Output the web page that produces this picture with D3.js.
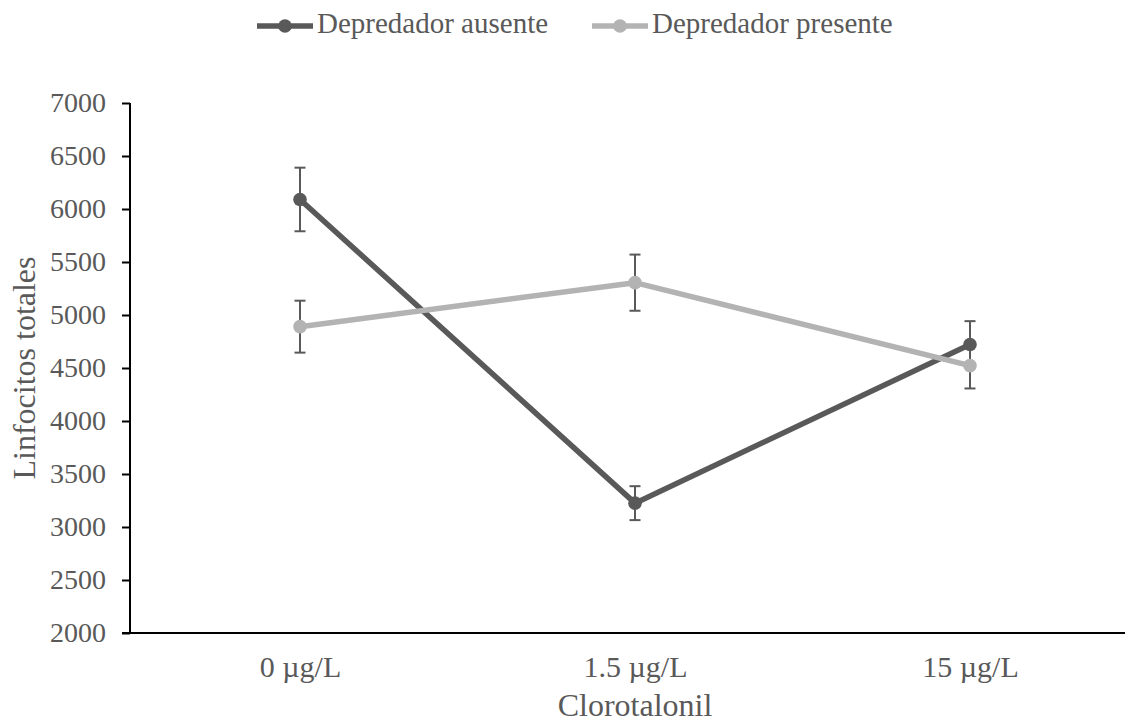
<!DOCTYPE html>
<html>
<head>
<meta charset="utf-8">
<script src="https://cdn.jsdelivr.net/npm/d3@7"></script>
<style>
  html, body { margin: 0; padding: 0; background: #fff; }
  svg text { font-family: "Liberation Serif", "DejaVu Serif", serif; fill: #595959; }
</style>
</head>
<body>
<svg id="chart" width="1125" height="725"></svg>
<script>
// Concentration levels on the x axis
const categories = ["0 \u00b5g/L", "1.5 \u00b5g/L", "15 \u00b5g/L"];
// Mean total lymphocytes and error for each treatment
const seriesNames = ["Depredador ausente", "Depredador presente"];
const ausenteValues = [6090, 3225, 4722];
const ausenteErrors = [300, 160, 220];
const presenteValues = [4890, 5305, 4522];
const presenteErrors = [245, 265, 215];
const yTicks = [2000, 2500, 3000, 3500, 4000, 4500, 5000, 5500, 6000, 6500, 7000];
const seriesColors = ["#595959", "#b3b3b3"];

const series = [
  { name: seriesNames[0], values: ausenteValues, errors: ausenteErrors, color: seriesColors[0] },
  { name: seriesNames[1], values: presenteValues, errors: presenteErrors, color: seriesColors[1] }
];

const svg = d3.select("#chart");
const axisX0 = 130, plotRight = 1137.5, plotTop = 103, plotBottom = 633;

const x = d3.scalePoint().domain(categories).range([132.5, plotRight]).padding(0.5);
const y = d3.scaleLinear().domain([2000, 7000]).range([plotBottom, plotTop]);

// Y axis
const yAxis = svg.append("g")
  .attr("transform", `translate(${axisX0},0)`)
  .call(d3.axisLeft(y).tickValues(yTicks).tickSize(8).tickPadding(16).tickFormat(d3.format("d")));
yAxis.select(".domain").attr("stroke", "#000").attr("stroke-width", 2).attr("d", `M0,${plotTop}V${plotBottom}`);
yAxis.selectAll(".tick line").attr("stroke", "#000").attr("stroke-width", 2);
yAxis.selectAll(".tick text").attr("font-size", 28).attr("fill", "#595959")
  .attr("font-family", "Liberation Serif, serif");

// X axis
const xAxis = svg.append("g")
  .attr("transform", `translate(0,${plotBottom})`)
  .call(d3.axisBottom(x).tickSize(0).tickPadding(23));
xAxis.select(".domain").attr("stroke", "#000").attr("stroke-width", 2).attr("d", `M${axisX0 - 8},0H1125`);
xAxis.selectAll(".tick text").attr("font-size", 30).attr("fill", "#595959")
  .attr("font-family", "Liberation Serif, serif");

// Axis titles
svg.append("text")
  .attr("x", x(categories[1])).attr("y", 716)
  .attr("text-anchor", "middle").attr("font-size", 32)
  .text("Clorotalonil");
svg.append("text")
  .attr("transform", `translate(35,${(plotTop + plotBottom) / 2}) rotate(-90)`)
  .attr("text-anchor", "middle").attr("font-size", 32)
  .text("Linfocitos totales");

// Error bars
const capHalf = 5.5;
series.forEach(s => {
  const g = svg.append("g");
  s.values.forEach((v, i) => {
    const cx = x(categories[i]);
    const top = y(v + s.errors[i]), bot = y(v - s.errors[i]);
    g.append("line").attr("x1", cx).attr("x2", cx).attr("y1", top).attr("y2", bot)
      .attr("stroke", "#595959").attr("stroke-width", 2);
    [top, bot].forEach(yy => g.append("line")
      .attr("x1", cx - capHalf).attr("x2", cx + capHalf).attr("y1", yy).attr("y2", yy)
      .attr("stroke", "#595959").attr("stroke-width", 2));
  });
});

// Lines with markers
const line = d3.line().x((d, i) => x(categories[i])).y(d => y(d));
series.forEach(s => {
  svg.append("path").datum(s.values)
    .attr("d", line).attr("fill", "none")
    .attr("stroke", s.color).attr("stroke-width", 5.5).attr("stroke-linejoin", "round");
  svg.append("g").selectAll("circle").data(s.values).join("circle")
    .attr("cx", (d, i) => x(categories[i])).attr("cy", d => y(d))
    .attr("r", 6.8).attr("fill", s.color);
});

// Legend
const legendX = [257, 592];
series.forEach((s, i) => {
  const g = svg.append("g").attr("transform", `translate(${legendX[i]},26)`);
  g.append("line").attr("x1", 0).attr("x2", 56).attr("y1", 0).attr("y2", 0)
    .attr("stroke", s.color).attr("stroke-width", 5.5);
  g.append("circle").attr("cx", 28).attr("cy", 0).attr("r", 6.8).attr("fill", s.color);
  g.append("text").attr("x", 60).attr("y", 7).attr("font-size", 29).text(s.name);
});
</script>
</body>
</html>
